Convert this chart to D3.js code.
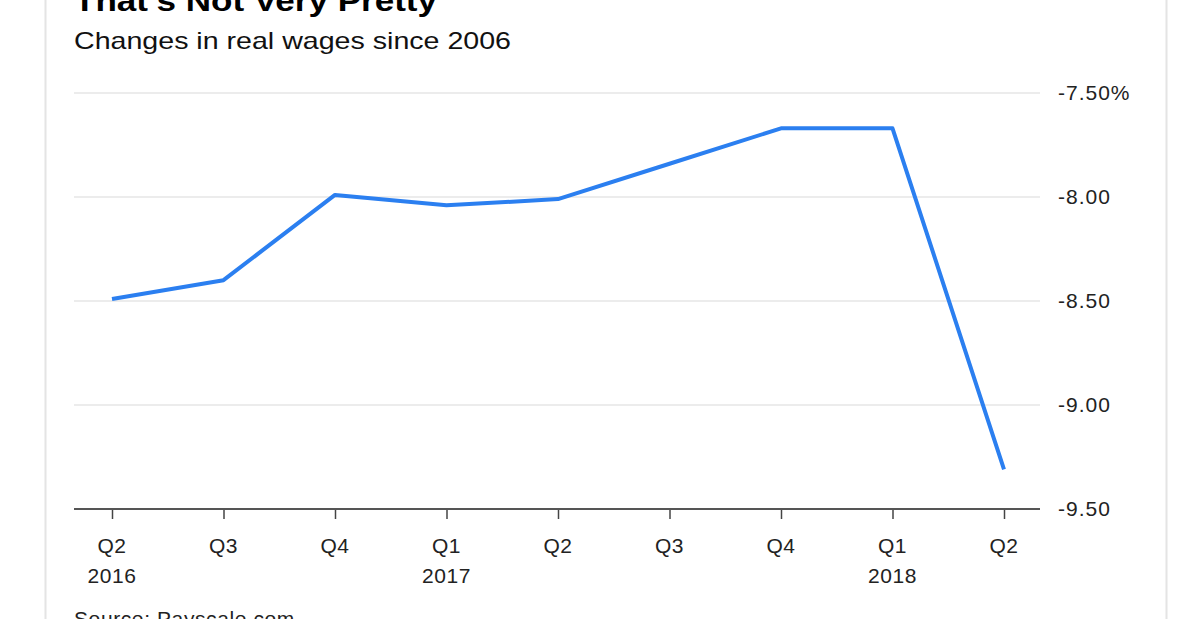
<!DOCTYPE html>
<html><head><meta charset="utf-8">
<script src="https://cdn.jsdelivr.net/npm/d3@7"></script>
<style>body{margin:0;background:#fff;font-family:"Liberation Sans",Arial,sans-serif}</style>
</head><body><svg id="c" width="1182" height="619"></svg>
<script>
const quarters = ["Q2","Q3","Q4","Q1","Q2","Q3","Q4","Q1","Q2"];
const years = ["2016","","","2017","","","","2018",""];
const values = [-8.49,-8.40,-7.99,-8.04,-8.01,-7.84,-7.67,-7.67,-9.31];
const yTicks = [-7.5,-8.0,-8.5,-9.0,-9.5];
const yTickLabels = ["-7.50%","-8.00","-8.50","-9.00","-9.50"];

const svg = d3.select("#c");
svg.append("line").attr("x1",45.5).attr("x2",45.5).attr("y1",0).attr("y2",619).attr("stroke","#e4e4e4").attr("stroke-width",2);
svg.append("line").attr("x1",1166.5).attr("x2",1166.5).attr("y1",0).attr("y2",619).attr("stroke","#e4e4e4").attr("stroke-width",2);
svg.append("text").attr("x",74).attr("y",11).attr("font-size",30).attr("font-weight","bold").attr("fill","#000")
  .attr("textLength",363).attr("lengthAdjust","spacingAndGlyphs").text("That’s Not Very Pretty");
svg.append("text").attr("x",74).attr("y",49).attr("font-size",24).attr("fill","#111")
  .attr("textLength",437).attr("lengthAdjust","spacingAndGlyphs").text("Changes in real wages since 2006");

const x = d3.scalePoint().domain(d3.range(values.length)).range([112,1004]);
const y = d3.scaleLinear().domain([-9.5,-7.5]).range([509,93]);

svg.selectAll(".g").data(yTicks).join("line")
  .attr("x1",74).attr("x2",1040).attr("y1",d=>y(d)).attr("y2",d=>y(d))
  .attr("stroke","#ececec").attr("stroke-width",2);
svg.selectAll(".yl").data(yTicks).join("text")
  .attr("x",1058).attr("y",d=>y(d)+7).attr("font-size",21).attr("letter-spacing",1).attr("fill","#222")
  .text((d,i)=>yTickLabels[i]);

const ax = svg.append("g").attr("transform","translate(0,509)")
  .call(d3.axisBottom(x).tickSize(10).tickFormat(""));
ax.select(".domain").remove();
ax.selectAll("line").attr("stroke","#444").attr("stroke-width",1.5);
svg.append("line").attr("x1",74).attr("x2",1040).attr("y1",509).attr("y2",509).attr("stroke","#555").attr("stroke-width",2);

svg.selectAll(".q").data(quarters).join("text")
  .attr("x",(d,i)=>x(i)).attr("y",553).attr("text-anchor","middle").attr("font-size",21).attr("letter-spacing",0.6).attr("fill","#222").text(d=>d);
svg.selectAll(".yr").data(years).join("text")
  .attr("x",(d,i)=>x(i)).attr("y",583).attr("text-anchor","middle").attr("font-size",21).attr("letter-spacing",0.6).attr("fill","#222").text(d=>d);

svg.append("path").datum(values)
  .attr("d",d3.line().x((d,i)=>x(i)).y(d=>y(d)))
  .attr("fill","none").attr("stroke","#2b7ff0").attr("stroke-width",4).attr("stroke-linejoin","round");

svg.append("text").attr("x",74).attr("y",626).attr("font-size",21).attr("letter-spacing",0.6).attr("fill","#222").text("Source: Payscale.com");
</script></body></html>
